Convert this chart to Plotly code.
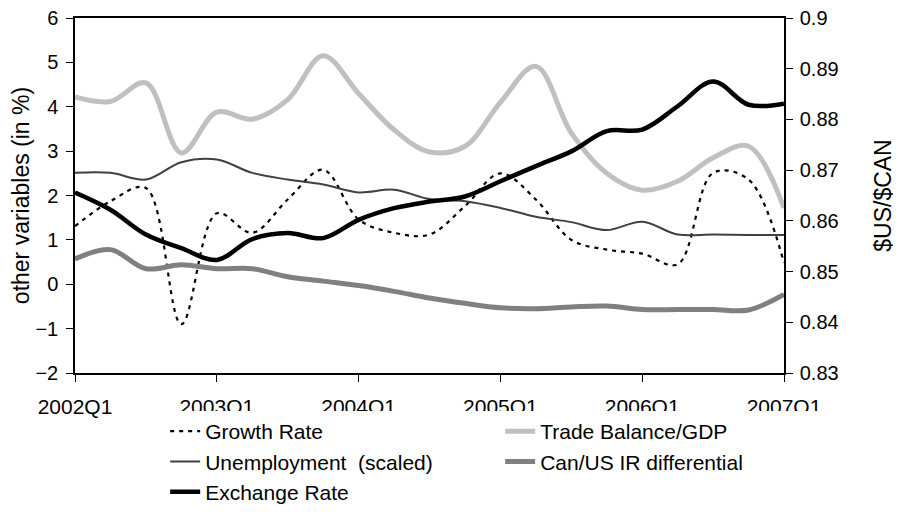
import plotly.graph_objects as go

quarters = [f"{y}Q{q}" for y in range(2002, 2007) for q in range(1, 5)] + ["2007Q1"]
tick_labels = ["2002Q1", "2003Q1", "2004Q1", "2005Q1", "2006Q1", "2007Q1"]

growth_rate = [1.31, 1.87, 2.17, -0.90, 1.60, 1.16, 1.91, 2.58, 1.46, 1.16, 1.12,
               1.76, 2.50, 1.91, 1.00, 0.78, 0.69, 0.45, 2.51, 2.36, 0.48]
trade_balance = [4.22, 4.12, 4.54, 2.96, 3.88, 3.72, 4.16, 5.15, 4.30, 3.48, 2.98,
                 3.11, 4.10, 4.91, 3.41, 2.50, 2.12, 2.32, 2.85, 3.11, 1.72]
unemployment = [2.51, 2.51, 2.36, 2.75, 2.81, 2.51, 2.36, 2.25, 2.07, 2.13, 1.92,
                1.87, 1.72, 1.52, 1.40, 1.22, 1.41, 1.12, 1.12, 1.11, 1.11]
ir_differential = [0.57, 0.78, 0.35, 0.44, 0.35, 0.35, 0.17, 0.07, -0.03, -0.16, -0.31,
                   -0.43, -0.53, -0.55, -0.51, -0.49, -0.57, -0.57, -0.57, -0.58, -0.23]
exchange_rate = [0.8656, 0.8622, 0.8573, 0.8546, 0.8523, 0.8564, 0.8576, 0.8566, 0.8602,
                 0.8625, 0.8638, 0.8648, 0.8678, 0.8708, 0.8737, 0.8777, 0.8780, 0.8826,
                 0.8875, 0.8829, 0.8831]

FONT = "Liberation Sans, Arial, sans-serif"

fig = go.Figure()
fig.add_trace(go.Scatter(x=quarters, y=growth_rate, name="Growth Rate", mode="lines",
                         line=dict(color="black", width=2.2, dash="4px,5px", shape="spline", smoothing=1)))
fig.add_trace(go.Scatter(x=quarters, y=trade_balance, name="Trade Balance/GDP", mode="lines",
                         line=dict(color="#c0c0c0", width=5, shape="spline", smoothing=1)))
fig.add_trace(go.Scatter(x=quarters, y=unemployment, name="Unemployment  (scaled)", mode="lines",
                         line=dict(color="#404040", width=2, shape="spline", smoothing=1)))
fig.add_trace(go.Scatter(x=quarters, y=ir_differential, name="Can/US IR differential", mode="lines",
                         line=dict(color="#808080", width=5, shape="spline", smoothing=1)))
fig.add_trace(go.Scatter(x=quarters, y=exchange_rate, name="Exchange Rate", mode="lines", yaxis="y2",
                         line=dict(color="black", width=4.5, shape="spline", smoothing=1)))

fig.update_layout(
    width=893, height=509,
    margin=dict(l=67, r=117, t=10, b=144, autoexpand=False),
    paper_bgcolor="white", plot_bgcolor="white",
    font=dict(family=FONT, color="black", size=20),
    xaxis=dict(type="category", range=[0, 20], tickmode="array", tickvals=tick_labels,
               ticktext=tick_labels, ticks="outside", ticklen=7, tickcolor="black",
               ticklabelstandoff=7, ticklabeloverflow="allow",
               showline=True, linecolor="black", linewidth=1.5, mirror=True,
               showgrid=False, zeroline=False, tickfont=dict(size=21)),
    xaxis2=dict(overlaying="x", range=[0, 20], tickmode="array", tickvals=[0, 4, 8, 12, 16, 20],
                ticks="inside", ticklen=7, tickcolor="black", showticklabels=False,
                showline=False, showgrid=False, zeroline=False),
    yaxis=dict(range=[-2, 6], dtick=1, ticks="outside", ticklen=7, tickcolor="black",
               ticklabelstandoff=4, ticklabeloverflow="allow",
               showline=True, linecolor="black", linewidth=1.5, showgrid=False, zeroline=False,
               title=dict(text="other variables (in %)", font=dict(size=23), standoff=4),
               tickfont=dict(size=20)),
    yaxis2=dict(range=[0.83, 0.9], dtick=0.01, overlaying="y", side="right", ticks="outside",
                ticklen=7, tickcolor="black", showline=True, linecolor="black", linewidth=1.5,
                ticklabelstandoff=3, ticklabeloverflow="allow",
                showgrid=False, zeroline=False, tickformat="~g",
                title=dict(text="$US/$CAN", font=dict(size=23), standoff=37),
                tickfont=dict(size=20)),
    yaxis3=dict(range=[0.83, 0.9], dtick=0.01, overlaying="y", side="right", anchor="x",
                ticks="inside", ticklen=7, tickcolor="black", showticklabels=False,
                showline=False, showgrid=False, zeroline=False),
    legend=dict(orientation="h", xref="container", yref="container",
                x=0.176, xanchor="left", y=0.2083, yanchor="top",
                entrywidth=290, entrywidthmode="pixels", bgcolor="white",
                font=dict(size=21), traceorder="normal"),
    showlegend=True,
)

fig.write_html("out.html")
